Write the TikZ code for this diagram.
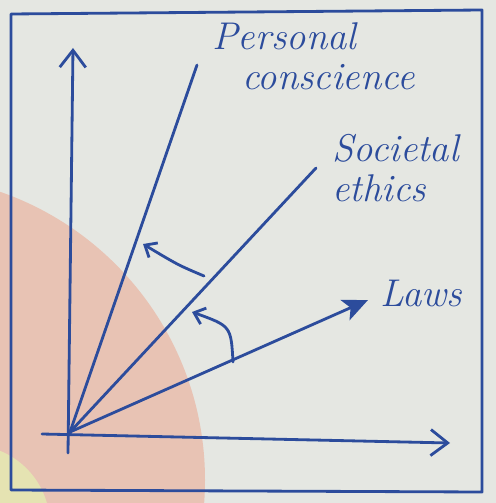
\documentclass[tikz,border=0pt]{standalone}
\usepackage{tikz}
\usetikzlibrary{arrows.meta,positioning}

\definecolor{ink}{HTML}{2C4C9C}
\definecolor{paper}{HTML}{E5E7E2}
\definecolor{blush}{HTML}{E8C3B4}
\definecolor{lemon}{HTML}{E5E3B2}

\begin{document}
\begin{tikzpicture}[
      x=0.02cm, y=-0.02cm,
      pen/.style={draw=ink, line width=1.6pt, line cap=round, line join=round},
      axis/.style={pen, -{Straight Barb[length=3.4mm, width=5.2mm]}},
      ray/.style={pen},
      turn/.style={pen, -{Straight Barb[length=2mm, width=3.4mm]}},
      tag/.style={text=ink, font=\fontsize{22}{25}\selectfont\itshape, align=left, inner sep=0pt}
    ]
    \useasboundingbox (0,0) rectangle (496,503);

    % Paper and its shading
    \fill[paper] (0,0) rectangle (496,503);
    \begin{scope}
      \clip (0,0) rectangle (496,503);
      \fill[blush] (-100,480) circle [radius=305];
      \fill[lemon] (-30,525) circle [radius=80];
    \end{scope}

    % Frame
    \draw[pen] (11,14) -- (482,10) -- (482,492) -- (11,490) -- cycle;

    % Points
    \coordinate (O) at (70,432);
    \coordinate (ybot) at (68,453);
    \coordinate (ytop) at (73,48);
    \coordinate (xleft) at (42,434);
    \coordinate (xright) at (450,443);
    \coordinate (pc) at (197,65);
    \coordinate (se) at (316,168);
    \coordinate (lw) at (368,300);

    % Labels
    \node[tag, anchor=north west] (pclabel) at (212,22) {Personal\\[-2pt]\hspace*{0.6cm}conscience};
    \node[tag, anchor=north west] (selabel) at (332,134) {Societal\\[-2pt]ethics};
    \node[tag, anchor=west] (lwlabel) at (380,293) {Laws};

    % Axes
    \draw[axis] (ybot) -- (ytop);
    \draw[axis] (xleft) -- (xright);

    % Rays from the origin
    \draw[ray] (O) -- (pc);
    \draw[ray] (O) -- (se);
    \draw[pen, -{Stealth[length=5mm, width=4.4mm, inset=1.2mm]}] (O) -- (lw);

    % Turning arrows
    \coordinate (s1) at (204,276);
    \coordinate (e1) at (143,244);
    \draw[turn] (s1) .. controls (178,265) .. (e1);
    \coordinate (s2) at (233,362);
    \coordinate (e2) at (192,312);
    \draw[turn] (s2) .. controls (231,326) .. (e2);
\end{tikzpicture}
\end{document}
